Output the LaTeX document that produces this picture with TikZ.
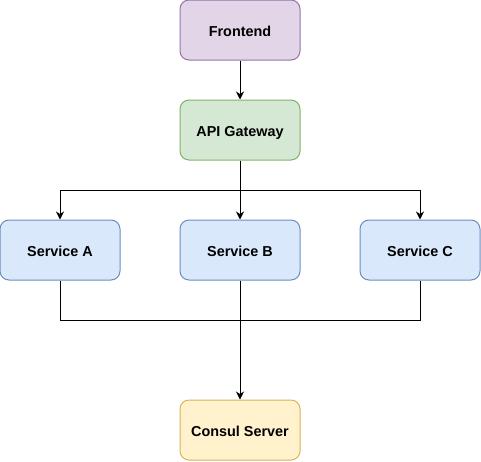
\documentclass[tikz,border=0pt]{standalone}
\usepackage{fontspec}
\setmainfont{Liberation Sans}
\usetikzlibrary{arrows.meta}
\definecolor{feFill}{HTML}{E1D5E7}
\definecolor{feLine}{HTML}{9673A6}
\definecolor{gwFill}{HTML}{D5E8D4}
\definecolor{gwLine}{HTML}{82B366}
\definecolor{svFill}{HTML}{DAE8FC}
\definecolor{svLine}{HTML}{6C8EBF}
\definecolor{csFill}{HTML}{FFF2CC}
\definecolor{csLine}{HTML}{D6B656}
\begin{document}
\begin{tikzpicture}[x=1pt,y=-1pt]
        \tikzset{box/.style = {shape=rectangle,rounded corners=9pt,draw,line width=1pt,minimum width=120pt,minimum height=60pt,inner sep=0pt,text height=13.4pt,text depth=0pt,font=\fontsize{14.4}{16}\selectfont\bfseries}};
        \tikzset{edge/.style = {->,> = {Stealth[length=8pt,width=8pt,inset=2.5pt]},line width=1pt}};
        \useasboundingbox (0,0) rectangle (481,461);
        \node[box,fill=feFill,draw=feLine] (fe) at (240,30) {Frontend};
        \node[box,fill=gwFill,draw=gwLine] (gw) at (240,130) {API Gateway};
        \node[box,fill=svFill,draw=svLine] (sa) at (60,250) {Service A};
        \node[box,fill=svFill,draw=svLine] (sb) at (240,250) {Service B};
        \node[box,fill=svFill,draw=svLine] (sc) at (420,250) {Service C};
        \node[box,fill=csFill,draw=csLine] (cs) at (240,430) {Consul Server};
        \coordinate (fork) at (240,190);
        \coordinate (join) at (240,320);
        \draw[edge] (fe) -- (gw);
        \draw[edge] (gw) -- (sb);
        \draw[edge] (fork) -| (sa);
        \draw[edge] (fork) -| (sc);
        \draw[line width=1pt] (sa) |- (join);
        \draw[line width=1pt] (sc) |- (join);
        \draw[edge] (sb) -- (cs);
    \end{tikzpicture}
\end{document}
